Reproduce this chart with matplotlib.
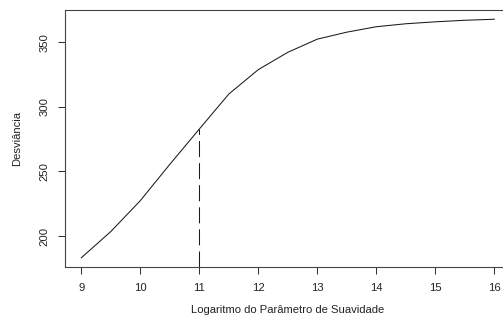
import matplotlib
matplotlib.use("Agg")
import matplotlib.pyplot as plt

plt.rcParams['font.family'] = ['Liberation Sans', 'DejaVu Sans']

log_lambda = [9.0, 9.5, 10.0, 10.5, 11.0, 11.5, 12.0, 12.5, 13.0, 13.5, 14.0, 14.5, 15.0, 15.5, 16.0]
deviance = [183.2, 203.5, 227.4, 255.5, 282.8, 309.9, 328.8, 342.2, 352.4, 357.8, 362.0, 364.3, 365.8, 367.0, 367.8]
chosen_x = 11.0
chosen_y = 282.8
x_ticks = [9, 10, 11, 12, 13, 14, 15, 16]
y_ticks = [200, 250, 300, 350]

W, H = 503, 323
fig = plt.figure(figsize=(W / 100, H / 100), dpi=100)
left, right, top, bottom = 64.8, 510.8, 9.7, 267.3
ax = fig.add_axes([left / W, 1 - bottom / H, (right - left) / W, (bottom - top) / H])

ax.plot(log_lambda, deviance, color='#1a1a1a', lw=0.75)

xmin, xmax = min(log_lambda), max(log_lambda)
ymin, ymax = min(deviance), max(deviance)
dx = (xmax - xmin) * 0.04
dy = (ymax - ymin) * 0.04
ax.set_xlim(xmin - dx, xmax + dx)
ax.set_ylim(ymin - dy, ymax + dy)

ax.plot([chosen_x, chosen_x], [ymin - dy, chosen_y], color='#1a1a1a', lw=0.75,
        linestyle=(0, (15.4, 5.8)))

ax.set_xticks(x_ticks)
ax.set_xticklabels([str(t) for t in x_ticks])
ax.set_yticks(y_ticks)
ax.set_yticklabels([str(t) for t in y_ticks], rotation=90, va='center')

fs = 8.1
ax.tick_params(axis='both', direction='out', length=5, width=0.75, color='#333333',
               labelsize=fs, labelcolor='#222222')
ax.tick_params(axis='x', pad=6)
ax.tick_params(axis='y', pad=6)

for s in ax.spines.values():
    s.set_color('#444444')
    s.set_linewidth(0.8)

ax.set_xlabel('Logaritmo do Parâmetro de Suavidade', fontsize=fs, color='#222222', va='center')
ax.xaxis.set_label_coords(0.5, (bottom - 310) / (bottom - top))
ax.set_ylabel('Desviância', fontsize=fs, color='#222222', va='center')
ax.yaxis.set_label_coords((17 - left) / (right - left), 0.5)

fig.savefig('out.png', dpi=100)
